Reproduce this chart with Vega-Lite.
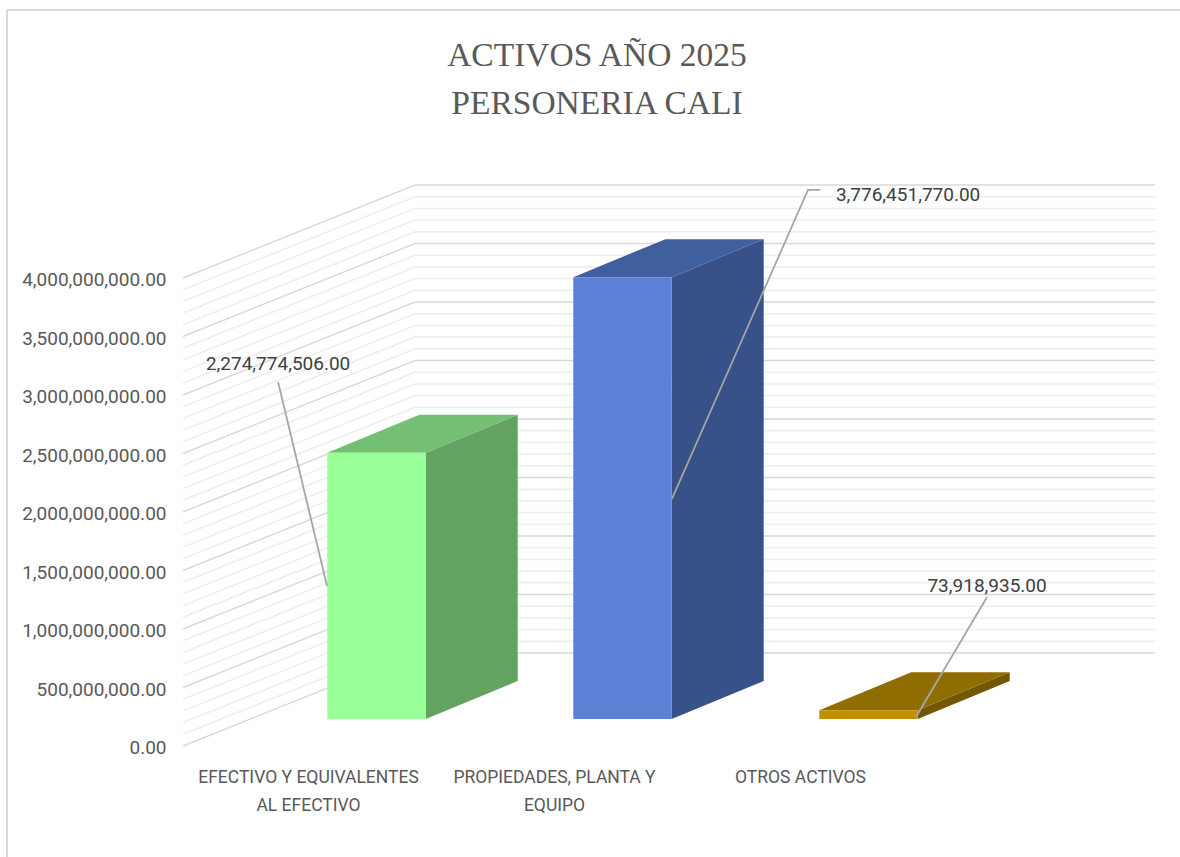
{
"$schema":"https://vega.github.io/schema/vega-lite/v6.json",
"width":1180,"height":857,"padding":0,"autosize":{"type":"none"},"background":"white",
"config":{"view":{"stroke":null},"font":"Roboto"},
"title":{"text":["ACTIVOS AÑO 2025","PERSONERIA CALI"],"anchor":"middle","offset":-121,"dx":7,"font":"Liberation Serif","fontSize":33.5,"fontWeight":"normal","color":"#595959","lineHeight":48},
"datasets":{
"barras":[
{"categoria":"EFECTIVO Y EQUIVALENTES AL EFECTIVO","valor":2274774506},
{"categoria":"PROPIEDADES, PLANTA Y EQUIPO","valor":3776451770},
{"categoria":"OTROS ACTIVOS","valor":73918935}],
"caras":[
{"superficie":"efectivo lateral","posicion":1.2,"superior":2505574506,"inferior":230800000},
{"superficie":"efectivo lateral","posicion":1.574,"superior":2830374506,"inferior":555600000},
{"superficie":"efectivo superior","posicion":0.8,"superior":2505574506,"inferior":2505574506},
{"superficie":"efectivo superior","posicion":1.174,"superior":2830374506,"inferior":2505574506},
{"superficie":"efectivo superior","posicion":1.2,"superior":2830374506,"inferior":2505574506},
{"superficie":"efectivo superior","posicion":1.574,"superior":2830374506,"inferior":2830374506},
{"superficie":"propiedades lateral","posicion":2.2,"superior":4007251770,"inferior":230800000},
{"superficie":"propiedades lateral","posicion":2.574,"superior":4332051770,"inferior":555600000},
{"superficie":"propiedades superior","posicion":1.8,"superior":4007251770,"inferior":4007251770},
{"superficie":"propiedades superior","posicion":2.174,"superior":4332051770,"inferior":4007251770},
{"superficie":"propiedades superior","posicion":2.2,"superior":4332051770,"inferior":4007251770},
{"superficie":"propiedades superior","posicion":2.574,"superior":4332051770,"inferior":4332051770},
{"superficie":"otros lateral","posicion":3.2,"superior":304718935,"inferior":230800000},
{"superficie":"otros lateral","posicion":3.574,"superior":629518935,"inferior":555600000},
{"superficie":"otros superior","posicion":2.8,"superior":304718935,"inferior":304718935},
{"superficie":"otros superior","posicion":3.174,"superior":629518935,"inferior":304718935},
{"superficie":"otros superior","posicion":3.2,"superior":629518935,"inferior":304718935},
{"superficie":"otros superior","posicion":3.574,"superior":629518935,"inferior":629518935}],
"guias":[
{"serie":"efectivo","punto":1,"posicion":0.6,"nivel":3110500000},
{"serie":"efectivo","punto":2,"posicion":0.799,"nivel":1367500000},
{"serie":"propiedades","punto":1,"posicion":2.201,"nivel":2111500000},
{"serie":"propiedades","punto":2,"posicion":2.754,"nivel":4752500000},
{"serie":"propiedades","punto":3,"posicion":2.803,"nivel":4752500000},
{"serie":"otros","punto":1,"posicion":3.193,"nivel":247500000},
{"serie":"otros","punto":2,"posicion":3.482,"nivel":1273500000}],
"etiquetas":[
{"texto":"2,274,774,506.00","posicion":0.6,"nivel":3264500000},
{"texto":"3,776,451,770.00","posicion":3.161,"nivel":4709500000},
{"texto":"73,918,935.00","posicion":3.482,"nivel":1367500000}],
"marco":[{"x0":-0.502,"x1":4.5,"y0":6290500000,"y1":-948000000}],
"reticula":[
{"valor":100000000,"tipo":"menor","pared":0,"nivel":100000000},{"valor":100000000,"tipo":"menor","pared":1,"nivel":894900000},{"valor":100000000,"tipo":"menor","pared":2,"nivel":894900000},
{"valor":200000000,"tipo":"menor","pared":0,"nivel":200000000},{"valor":200000000,"tipo":"menor","pared":1,"nivel":994900000},{"valor":200000000,"tipo":"menor","pared":2,"nivel":994900000},
{"valor":300000000,"tipo":"menor","pared":0,"nivel":300000000},{"valor":300000000,"tipo":"menor","pared":1,"nivel":1094900000},{"valor":300000000,"tipo":"menor","pared":2,"nivel":1094900000},
{"valor":400000000,"tipo":"menor","pared":0,"nivel":400000000},{"valor":400000000,"tipo":"menor","pared":1,"nivel":1194900000},{"valor":400000000,"tipo":"menor","pared":2,"nivel":1194900000},
{"valor":600000000,"tipo":"menor","pared":0,"nivel":600000000},{"valor":600000000,"tipo":"menor","pared":1,"nivel":1394900000},{"valor":600000000,"tipo":"menor","pared":2,"nivel":1394900000},
{"valor":700000000,"tipo":"menor","pared":0,"nivel":700000000},{"valor":700000000,"tipo":"menor","pared":1,"nivel":1494900000},{"valor":700000000,"tipo":"menor","pared":2,"nivel":1494900000},
{"valor":800000000,"tipo":"menor","pared":0,"nivel":800000000},{"valor":800000000,"tipo":"menor","pared":1,"nivel":1594900000},{"valor":800000000,"tipo":"menor","pared":2,"nivel":1594900000},
{"valor":900000000,"tipo":"menor","pared":0,"nivel":900000000},{"valor":900000000,"tipo":"menor","pared":1,"nivel":1694900000},{"valor":900000000,"tipo":"menor","pared":2,"nivel":1694900000},
{"valor":1100000000,"tipo":"menor","pared":0,"nivel":1100000000},{"valor":1100000000,"tipo":"menor","pared":1,"nivel":1894900000},{"valor":1100000000,"tipo":"menor","pared":2,"nivel":1894900000},
{"valor":1200000000,"tipo":"menor","pared":0,"nivel":1200000000},{"valor":1200000000,"tipo":"menor","pared":1,"nivel":1994900000},{"valor":1200000000,"tipo":"menor","pared":2,"nivel":1994900000},
{"valor":1300000000,"tipo":"menor","pared":0,"nivel":1300000000},{"valor":1300000000,"tipo":"menor","pared":1,"nivel":2094900000},{"valor":1300000000,"tipo":"menor","pared":2,"nivel":2094900000},
{"valor":1400000000,"tipo":"menor","pared":0,"nivel":1400000000},{"valor":1400000000,"tipo":"menor","pared":1,"nivel":2194900000},{"valor":1400000000,"tipo":"menor","pared":2,"nivel":2194900000},
{"valor":1600000000,"tipo":"menor","pared":0,"nivel":1600000000},{"valor":1600000000,"tipo":"menor","pared":1,"nivel":2394900000},{"valor":1600000000,"tipo":"menor","pared":2,"nivel":2394900000},
{"valor":1700000000,"tipo":"menor","pared":0,"nivel":1700000000},{"valor":1700000000,"tipo":"menor","pared":1,"nivel":2494900000},{"valor":1700000000,"tipo":"menor","pared":2,"nivel":2494900000},
{"valor":1800000000,"tipo":"menor","pared":0,"nivel":1800000000},{"valor":1800000000,"tipo":"menor","pared":1,"nivel":2594900000},{"valor":1800000000,"tipo":"menor","pared":2,"nivel":2594900000},
{"valor":1900000000,"tipo":"menor","pared":0,"nivel":1900000000},{"valor":1900000000,"tipo":"menor","pared":1,"nivel":2694900000},{"valor":1900000000,"tipo":"menor","pared":2,"nivel":2694900000},
{"valor":2100000000,"tipo":"menor","pared":0,"nivel":2100000000},{"valor":2100000000,"tipo":"menor","pared":1,"nivel":2894900000},{"valor":2100000000,"tipo":"menor","pared":2,"nivel":2894900000},
{"valor":2200000000,"tipo":"menor","pared":0,"nivel":2200000000},{"valor":2200000000,"tipo":"menor","pared":1,"nivel":2994900000},{"valor":2200000000,"tipo":"menor","pared":2,"nivel":2994900000},
{"valor":2300000000,"tipo":"menor","pared":0,"nivel":2300000000},{"valor":2300000000,"tipo":"menor","pared":1,"nivel":3094900000},{"valor":2300000000,"tipo":"menor","pared":2,"nivel":3094900000},
{"valor":2400000000,"tipo":"menor","pared":0,"nivel":2400000000},{"valor":2400000000,"tipo":"menor","pared":1,"nivel":3194900000},{"valor":2400000000,"tipo":"menor","pared":2,"nivel":3194900000},
{"valor":2600000000,"tipo":"menor","pared":0,"nivel":2600000000},{"valor":2600000000,"tipo":"menor","pared":1,"nivel":3394900000},{"valor":2600000000,"tipo":"menor","pared":2,"nivel":3394900000},
{"valor":2700000000,"tipo":"menor","pared":0,"nivel":2700000000},{"valor":2700000000,"tipo":"menor","pared":1,"nivel":3494900000},{"valor":2700000000,"tipo":"menor","pared":2,"nivel":3494900000},
{"valor":2800000000,"tipo":"menor","pared":0,"nivel":2800000000},{"valor":2800000000,"tipo":"menor","pared":1,"nivel":3594900000},{"valor":2800000000,"tipo":"menor","pared":2,"nivel":3594900000},
{"valor":2900000000,"tipo":"menor","pared":0,"nivel":2900000000},{"valor":2900000000,"tipo":"menor","pared":1,"nivel":3694900000},{"valor":2900000000,"tipo":"menor","pared":2,"nivel":3694900000},
{"valor":3100000000,"tipo":"menor","pared":0,"nivel":3100000000},{"valor":3100000000,"tipo":"menor","pared":1,"nivel":3894900000},{"valor":3100000000,"tipo":"menor","pared":2,"nivel":3894900000},
{"valor":3200000000,"tipo":"menor","pared":0,"nivel":3200000000},{"valor":3200000000,"tipo":"menor","pared":1,"nivel":3994900000},{"valor":3200000000,"tipo":"menor","pared":2,"nivel":3994900000},
{"valor":3300000000,"tipo":"menor","pared":0,"nivel":3300000000},{"valor":3300000000,"tipo":"menor","pared":1,"nivel":4094900000},{"valor":3300000000,"tipo":"menor","pared":2,"nivel":4094900000},
{"valor":3400000000,"tipo":"menor","pared":0,"nivel":3400000000},{"valor":3400000000,"tipo":"menor","pared":1,"nivel":4194900000},{"valor":3400000000,"tipo":"menor","pared":2,"nivel":4194900000},
{"valor":3600000000,"tipo":"menor","pared":0,"nivel":3600000000},{"valor":3600000000,"tipo":"menor","pared":1,"nivel":4394900000},{"valor":3600000000,"tipo":"menor","pared":2,"nivel":4394900000},
{"valor":3700000000,"tipo":"menor","pared":0,"nivel":3700000000},{"valor":3700000000,"tipo":"menor","pared":1,"nivel":4494900000},{"valor":3700000000,"tipo":"menor","pared":2,"nivel":4494900000},
{"valor":3800000000,"tipo":"menor","pared":0,"nivel":3800000000},{"valor":3800000000,"tipo":"menor","pared":1,"nivel":4594900000},{"valor":3800000000,"tipo":"menor","pared":2,"nivel":4594900000},
{"valor":3900000000,"tipo":"menor","pared":0,"nivel":3900000000},{"valor":3900000000,"tipo":"menor","pared":1,"nivel":4694900000},{"valor":3900000000,"tipo":"menor","pared":2,"nivel":4694900000},
{"valor":0,"tipo":"mayor","pared":0,"nivel":0},{"valor":0,"tipo":"mayor","pared":1,"nivel":794900000},{"valor":0,"tipo":"mayor","pared":2,"nivel":794900000},
{"valor":500000000,"tipo":"mayor","pared":0,"nivel":500000000},{"valor":500000000,"tipo":"mayor","pared":1,"nivel":1294900000},{"valor":500000000,"tipo":"mayor","pared":2,"nivel":1294900000},
{"valor":1000000000,"tipo":"mayor","pared":0,"nivel":1000000000},{"valor":1000000000,"tipo":"mayor","pared":1,"nivel":1794900000},{"valor":1000000000,"tipo":"mayor","pared":2,"nivel":1794900000},
{"valor":1500000000,"tipo":"mayor","pared":0,"nivel":1500000000},{"valor":1500000000,"tipo":"mayor","pared":1,"nivel":2294900000},{"valor":1500000000,"tipo":"mayor","pared":2,"nivel":2294900000},
{"valor":2000000000,"tipo":"mayor","pared":0,"nivel":2000000000},{"valor":2000000000,"tipo":"mayor","pared":1,"nivel":2794900000},{"valor":2000000000,"tipo":"mayor","pared":2,"nivel":2794900000},
{"valor":2500000000,"tipo":"mayor","pared":0,"nivel":2500000000},{"valor":2500000000,"tipo":"mayor","pared":1,"nivel":3294900000},{"valor":2500000000,"tipo":"mayor","pared":2,"nivel":3294900000},
{"valor":3000000000,"tipo":"mayor","pared":0,"nivel":3000000000},{"valor":3000000000,"tipo":"mayor","pared":1,"nivel":3794900000},{"valor":3000000000,"tipo":"mayor","pared":2,"nivel":3794900000},
{"valor":3500000000,"tipo":"mayor","pared":0,"nivel":3500000000},{"valor":3500000000,"tipo":"mayor","pared":1,"nivel":4294900000},{"valor":3500000000,"tipo":"mayor","pared":2,"nivel":4294900000},
{"valor":4000000000,"tipo":"mayor","pared":0,"nivel":4000000000},{"valor":4000000000,"tipo":"mayor","pared":1,"nivel":4794900000},{"valor":4000000000,"tipo":"mayor","pared":2,"nivel":4794900000}
]
},
"resolve":{"scale":{"x":"independent","color":"independent"}},
"layer":[
{"data":{"name":"reticula"},
 "mark":{"type":"line","strokeWidth":1.5},
 "encoding":{
  "x":{"field":"pared","type":"quantitative","scale":{"domain":[0,1,2],"range":[183,415,1155]},"axis":null},
  "y":{"field":"nivel","type":"quantitative","scale":{"domain":[-948717948,6376068377],"nice":false,"zero":false},"axis":{"title":null,"orient":"left","offset":-170,"domain":false,"ticks":false,"grid":false,"values":[0,500000000,1000000000,1500000000,2000000000,2500000000,3000000000,3500000000,4000000000],"format":",.2f","labelFont":"Roboto","labelFontSize":19,"labelColor":"#595959","labelPadding":4,"labelOffset":1.5}},
  "detail":{"field":"valor"},
  "order":{"field":"pared","type":"quantitative"},
  "color":{"field":"tipo","type":"nominal","scale":{"domain":["mayor","menor"],"range":["#D9D9D9","#EDEDED"]},"legend":null}}},
{"data":{"name":"marco"},"mark":{"type":"rule","color":"#D9D9D9","strokeWidth":2},
 "encoding":{"x":{"field":"x0","type":"quantitative","scale":{"domain":[1,3],"range":[376.5,868.5],"zero":false,"nice":false},"axis":null},"y":{"field":"y0","type":"quantitative"},"y2":{"field":"y1"}}},
{"data":{"name":"marco"},"mark":{"type":"rule","color":"#D9D9D9","strokeWidth":2},
 "encoding":{"x":{"field":"x0","type":"quantitative","scale":{"domain":[1,3],"range":[376.5,868.5],"zero":false,"nice":false},"axis":null},"x2":{"field":"x1"},"y":{"field":"y0","type":"quantitative"}}},
{"data":{"name":"caras"},
 "mark":{"type":"area","orient":"vertical"},
 "encoding":{
  "x":{"field":"posicion","type":"quantitative","scale":{"domain":[1,3],"range":[376.5,868.5],"zero":false,"nice":false},"axis":null},
  "y":{"field":"superior","type":"quantitative","stack":null},
  "y2":{"field":"inferior"},
  "color":{"field":"superficie","type":"nominal","scale":{"domain":["efectivo superior","efectivo lateral","propiedades superior","propiedades lateral","otros superior","otros lateral"],"range":["#74BF74","#62A362","#3F5F9F","#385188","#8F6D00","#735700"]},"legend":null}}},
{"data":{"name":"barras"},
 "mark":{"type":"bar","yOffset":-27,"y2Offset":-27},
 "encoding":{
  "x":{"field":"categoria","type":"nominal","sort":null,"scale":{"type":"band","paddingInner":0.6,"paddingOuter":0,"range":[327.3,917.7]},
   "axis":{"title":null,"orient":"bottom","offset":-91,"domain":false,"ticks":false,"grid":false,"labelAngle":0,"labelOffset":-68,"labelFont":"Roboto","labelFontSize":17.5,"labelColor":"#595959","labelLineHeight":28,"labelLimit":400,"labelBaseline":"top",
    "labelExpr":"datum.value=='EFECTIVO Y EQUIVALENTES AL EFECTIVO'?['EFECTIVO Y EQUIVALENTES','AL EFECTIVO']:(datum.value=='PROPIEDADES, PLANTA Y EQUIPO'?['PROPIEDADES, PLANTA Y','EQUIPO']:datum.value)"}},
  "y":{"field":"valor","type":"quantitative"},
  "y2":{"datum":0},
  "color":{"field":"categoria","type":"nominal","scale":{"domain":["EFECTIVO Y EQUIVALENTES AL EFECTIVO","PROPIEDADES, PLANTA Y EQUIPO","OTROS ACTIVOS"],"range":["#99FF99","#5B80D6","#BF9000"]},"legend":null}}},
{"data":{"name":"guias"},
 "mark":{"type":"line","color":"#A6A6A6","strokeWidth":1.8},
 "encoding":{
  "x":{"field":"posicion","type":"quantitative","scale":{"domain":[1,3],"range":[376.5,868.5],"zero":false,"nice":false},"axis":null},
  "y":{"field":"nivel","type":"quantitative"},
  "detail":{"field":"serie"},
  "order":{"field":"punto","type":"quantitative"}}},
{"data":{"name":"etiquetas"},
 "mark":{"type":"text","font":"Roboto","fontSize":19,"color":"#404040","align":"center","baseline":"middle"},
 "encoding":{
  "x":{"field":"posicion","type":"quantitative","scale":{"domain":[1,3],"range":[376.5,868.5],"zero":false,"nice":false},"axis":null},
  "y":{"field":"nivel","type":"quantitative"},
  "text":{"field":"texto"}}}
]
}
